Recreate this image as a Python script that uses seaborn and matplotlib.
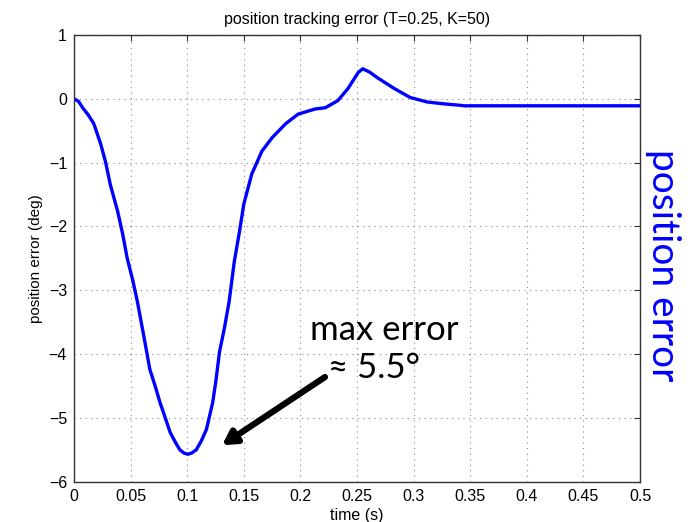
import matplotlib
matplotlib.use("Agg")
import matplotlib.pyplot as plt
import seaborn as sns
import pandas as pd

# values
time_s = [0.0, 0.004, 0.008, 0.0125, 0.0175, 0.0236, 0.028, 0.032, 0.0385, 0.043,
          0.047, 0.052, 0.056, 0.062, 0.067, 0.072, 0.076, 0.081, 0.085, 0.0895,
          0.0935, 0.097, 0.1005, 0.104, 0.108, 0.1125, 0.117, 0.1225, 0.1255, 0.1285,
          0.133, 0.137, 0.1416, 0.146, 0.150, 0.157, 0.166, 0.175, 0.187, 0.198,
          0.213, 0.222, 0.233, 0.242, 0.251, 0.255, 0.261, 0.268, 0.283, 0.297,
          0.312, 0.327, 0.340, 0.345, 0.40, 0.45, 0.50]
pos_err = [0.0, -0.04, -0.15, -0.25, -0.39, -0.71, -1.0, -1.34, -1.76, -2.12,
           -2.5, -2.85, -3.18, -3.75, -4.24, -4.52, -4.76, -5.02, -5.23, -5.38,
           -5.5, -5.55, -5.57, -5.55, -5.5, -5.36, -5.18, -4.76, -4.4, -3.97,
           -3.58, -3.18, -2.55, -2.1, -1.65, -1.18, -0.82, -0.61, -0.39, -0.24,
           -0.16, -0.14, -0.03, 0.16, 0.41, 0.47, 0.42, 0.33, 0.16, 0.02,
           -0.05, -0.08, -0.1, -0.11, -0.11, -0.11, -0.11]
x_ticks = [0, 0.05, 0.1, 0.15, 0.2, 0.25, 0.3, 0.35, 0.4, 0.45, 0.5]
x_labels = ["0", "0.05", "0.1", "0.15", "0.2", "0.25", "0.3", "0.35", "0.4", "0.45", "0.5"]
y_ticks = [-6, -5, -4, -3, -2, -1, 0, 1]
y_labels = ["\u22126", "\u22125", "\u22124", "\u22123", "\u22122", "\u22121", "0", "1"]

df = pd.DataFrame({"time": time_s, "err": pos_err})

sns.set_style("white")
plt.rcParams['font.family'] = ['Liberation Sans', 'DejaVu Sans']
plt.rcParams['text.color'] = 'black'
plt.rcParams['axes.labelcolor'] = 'black'
plt.rcParams['xtick.color'] = 'black'
plt.rcParams['ytick.color'] = 'black'

fig = plt.figure(figsize=(6.91, 5.22), dpi=100)
ax = fig.add_axes([0.1071, 0.0772, 0.8191, 0.8558])

sns.lineplot(data=df, x="time", y="err", color="#0000ff", linewidth=2.4, ax=ax)

ax.set_xlim(0, 0.5)
ax.set_ylim(-6, 1)
ax.set_xticks(x_ticks)
ax.set_xticklabels(x_labels)
ax.set_yticks(y_ticks)
ax.set_yticklabels(y_labels)
ax.tick_params(direction="in", top=True, right=True, length=4, labelsize=11.5, pad=5,
               color="#333333", labelcolor="black")
ax.grid(True, linestyle=(0, (1, 4)), color="#888888", linewidth=0.8)
for s in ax.spines.values():
    s.set_color("#333333")
    s.set_linewidth(1.0)

ax.set_title("position tracking error (T=0.25, K=50)", fontsize=11.5, pad=8, color="black")
ax.set_xlabel("time (s)", fontsize=11.5, labelpad=3, color="black")
ax.set_ylabel("position error (deg)", fontsize=11, labelpad=4, color="black")

ax.annotate("", xy=(0.1307, -5.43), xytext=(0.2217, -4.36),
            arrowprops=dict(arrowstyle="-|>,head_length=0.8,head_width=0.45",
                            color="black", lw=4.5, shrinkA=0, shrinkB=0))
ax.text(0.274, -3.62, "max error", fontsize=25, ha="center", va="center",
        color="black", family=["Lato", "DejaVu Sans"])
ax.text(0.265, -4.22, "\u2248 5.5\u00b0", fontsize=25, ha="center", va="center",
        color="black", family=["Lato", "DejaVu Sans"])

fig.text(0.9595, 0.4923, "position error", rotation=270, fontsize=28, color="#0000ff",
         ha="center", va="center", family=["Lato", "DejaVu Sans"])

fig.savefig("out.png", dpi=100)
